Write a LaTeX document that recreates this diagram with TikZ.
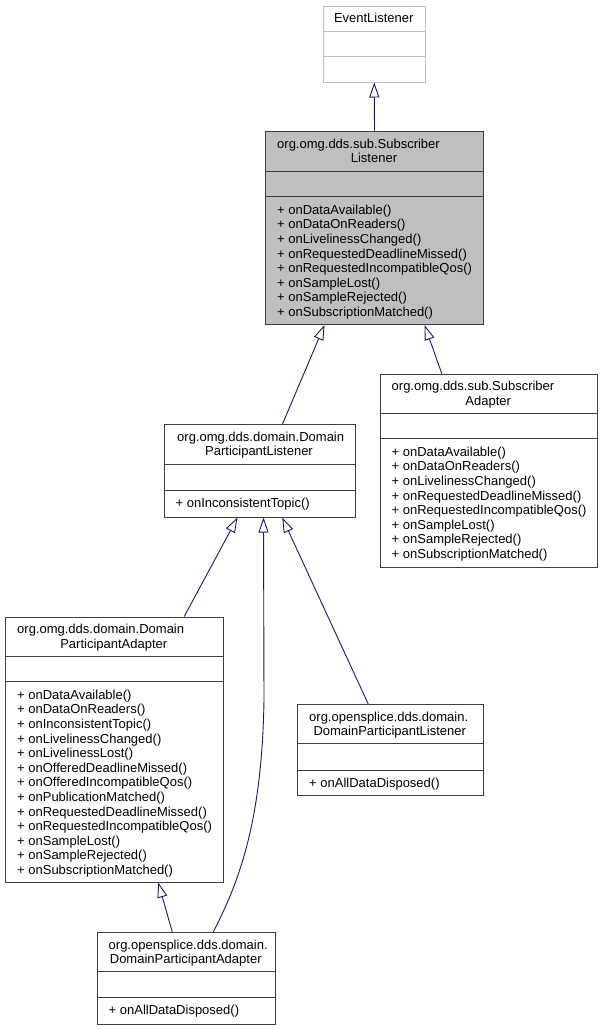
\documentclass[tikz,border=0pt]{standalone}
\usepackage{fontspec}
\setmainfont{Liberation Sans}
\usetikzlibrary{arrows.meta, positioning, calc}

\definecolor{edgeblue}{HTML}{191970}
\definecolor{boxgray}{HTML}{404040}
\definecolor{greyfill}{HTML}{BFBFBF}

\tikzset{
  classbox/.style={draw=boxgray, line width=1pt, fill=white, anchor=north west, inner sep=0pt},
  txt/.style={font=\fontsize{13}{14.6}\selectfont, inner sep=0pt},
  members/.style={txt, anchor=north west, align=left},
  divider/.style={draw=boxgray, line width=1pt},
  inherit/.style={draw=edgeblue, line width=0.9pt, -{Triangle[open, length=15pt, width=10pt]}},
}

\begin{document}
\begin{tikzpicture}[x=1pt, y=-1pt]
    \useasboundingbox (0,0) rectangle (603,1029);
    % EventListener
    \node[classbox, draw=greyfill, minimum width=102.5pt, minimum height=76pt] (evtlistener) at (322.5,5.5) {};
    \draw[divider, greyfill] (322.5,31.5) -- (425,31.5) (322.5,56.5) -- (425,56.5);
    \node[txt, anchor=base] at (373.75,22.8) {EventListener};
    % SubscriberListener
    \node[classbox, fill=greyfill, minimum width=218pt, minimum height=193pt] (sublistener) at (265,131) {};
    \draw[divider] (265,171.5) -- (483,171.5) (265,196.5) -- (483,196.5);
    \node[txt, anchor=base west] at (277,148.3) {org.omg.dds.sub.Subscriber};
    \node[txt, anchor=base] at (374,162.9) {Listener};
    \node[members] at (277,204) {\rule{0pt}{10pt}+ onDataAvailable()\\+ onDataOnReaders()\\+ onLivelinessChanged()\\+ onRequestedDeadlineMissed()\\+ onRequestedIncompatibleQos()\\+ onSampleLost()\\+ onSampleRejected()\\+ onSubscriptionMatched()};
    % SubscriberAdapter
    \node[classbox, minimum width=217.5pt, minimum height=193pt] (subadapter) at (379.5,373.5) {};
    \draw[divider] (379.5,413.5) -- (597,413.5) (379.5,438.5) -- (597,438.5);
    \node[txt, anchor=base west] at (391.5,390.8) {org.omg.dds.sub.Subscriber};
    \node[txt, anchor=base] at (488.25,405.4) {Adapter};
    \node[members] at (391.5,446) {\rule{0pt}{10pt}+ onDataAvailable()\\+ onDataOnReaders()\\+ onLivelinessChanged()\\+ onRequestedDeadlineMissed()\\+ onRequestedIncompatibleQos()\\+ onSampleLost()\\+ onSampleRejected()\\+ onSubscriptionMatched()};
    % DomainParticipantListener
    \node[classbox, minimum width=191pt, minimum height=92.5pt] (dplistener) at (163.5,424) {};
    \draw[divider] (163.5,464.5) -- (354.5,464.5) (163.5,490) -- (354.5,490);
    \node[txt, anchor=base west] at (177,441.3) {org.omg.dds.domain.Domain};
    \node[txt, anchor=base] at (259,455.9) {ParticipantListener};
    \node[members] at (175.5,497.5) {\rule{0pt}{10pt}+ onInconsistentTopic()};
    % DomainParticipantAdapter
    \node[classbox, minimum width=217.5pt, minimum height=265pt] (dpadapter) at (5,616.5) {};
    \draw[divider] (5,656.5) -- (222.5,656.5) (5,681.5) -- (222.5,681.5);
    \node[txt, anchor=base west] at (17,633.8) {org.omg.dds.domain.Domain};
    \node[txt, anchor=base] at (113.75,648.4) {ParticipantAdapter};
    \node[members] at (17,689) {\rule{0pt}{10pt}+ onDataAvailable()\\+ onDataOnReaders()\\+ onInconsistentTopic()\\+ onLivelinessChanged()\\+ onLivelinessLost()\\+ onOfferedDeadlineMissed()\\+ onOfferedIncompatibleQos()\\+ onPublicationMatched()\\+ onRequestedDeadlineMissed()\\+ onRequestedIncompatibleQos()\\+ onSampleLost()\\+ onSampleRejected()\\+ onSubscriptionMatched()};
    % opensplice DomainParticipantListener
    \node[classbox, minimum width=185.5pt, minimum height=91pt] (osdplistener) at (297,704) {};
    \draw[divider] (297,743.5) -- (482.5,743.5) (297,770) -- (482.5,770);
    \node[txt, anchor=base west] at (309,721.3) {org.opensplice.dds.domain.};
    \node[txt, anchor=base] at (389.75,735.9) {DomainParticipantListener};
    \node[members] at (309,777.5) {\rule{0pt}{10pt}+ onAllDataDisposed()};
    % opensplice DomainParticipantAdapter
    \node[classbox, minimum width=178.5pt, minimum height=91.5pt] (osdpadapter) at (96.5,932) {};
    \draw[divider] (96.5,971.5) -- (275,971.5) (96.5,997) -- (275,997);
    \node[txt, anchor=base west] at (108.5,949.3) {org.opensplice.dds.domain.};
    \node[txt, anchor=base] at (185.75,963.9) {DomainParticipantAdapter};
    \node[members] at (108.5,1004.5) {\rule{0pt}{10pt}+ onAllDataDisposed()};
    % Inheritance arrows
    \draw[inherit] (sublistener.north) -- (evtlistener.south);
    \draw[inherit] ([xshift=23pt]dplistener.north) -- ([xshift=-50pt]sublistener.south);
    \draw[inherit] ([xshift=-47pt]subadapter.north) -- ([xshift=50pt]sublistener.south);
    \draw[inherit] ([xshift=70pt]dpadapter.north) -- ([xshift=-22pt]dplistener.south);
    \draw[inherit] ([xshift=-22pt]osdplistener.north) -- ([xshift=22.7pt]dplistener.south);
    \draw[inherit] ([xshift=27pt]osdpadapter.north) .. controls (240,880) and (262,820) .. (264,700) -- ([xshift=4pt]dplistener.south);
    \draw[inherit] ([xshift=-14pt]osdpadapter.north) -- ([xshift=44pt]dpadapter.south);
\end{tikzpicture}
\end{document}
